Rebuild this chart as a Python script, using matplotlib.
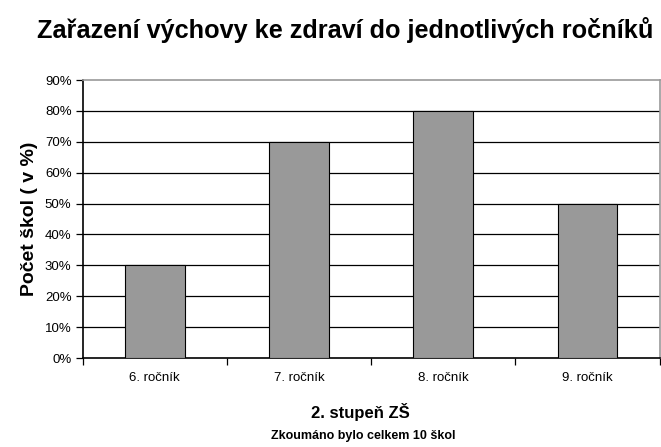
import matplotlib.pyplot as plt
import numpy as np

plt.rcParams['font.family'] = ['Liberation Sans', 'DejaVu Sans']

rocniky = ["6. ročník", "7. ročník", "8. ročník", "9. ročník"]
podil_skol = [30, 70, 80, 50]  # v %
y_ticks = list(range(0, 100, 10))

fig = plt.figure(figsize=(6.61, 4.47), dpi=100)
ax = fig.add_axes([0.125, 0.199, 0.873, 0.622])

x = np.arange(len(rocniky))
ax.bar(x, podil_skol, width=0.415, color="#999999", edgecolor="black", linewidth=0.8, zorder=3)

ax.set_xlim(-0.5, len(rocniky) - 0.5)
ax.set_ylim(0, 90)
ax.set_yticks(y_ticks)
ax.set_yticklabels([f"{v}%" for v in y_ticks], fontsize=9.5)
for v in y_ticks[1:-1]:
    ax.axhline(v, color="black", linewidth=0.9, zorder=1)

# carky mezi kategoriemi, popisky uprostred
ax.set_xticks(np.arange(len(rocniky) + 1) - 0.5)
ax.set_xticklabels([])
ax.set_xticks(x, minor=True)
ax.set_xticklabels(rocniky, minor=True, fontsize=9.5)
ax.tick_params(axis="x", which="minor", length=0, pad=10)
ax.tick_params(axis="x", which="major", length=5, width=0.9, direction="out")
ax.tick_params(axis="y", length=5, width=0.9, direction="out", pad=3)

for s in ["left", "bottom"]:
    ax.spines[s].set_color("black")
    ax.spines[s].set_linewidth(1.2)
for s in ["top", "right"]:
    ax.spines[s].set_color("#999999")
    ax.spines[s].set_linewidth(1.2)

ax.set_ylabel("Počet škol ( v %)", fontsize=14, fontweight="bold", labelpad=5)

fig.text(0.522, 0.932, "Zařazení výchovy ke zdraví do jednotlivých ročníků",
         ha="center", va="center", fontsize=18.2, fontweight="bold")
fig.text(0.545, 0.078, "2. stupeň ZŠ", ha="center", va="center", fontsize=12, fontweight="bold")
fig.text(0.55, 0.025, "Zkoumáno bylo celkem 10 škol", ha="center", va="center", fontsize=9, fontweight="bold")

fig.savefig("out.png", dpi=100)
